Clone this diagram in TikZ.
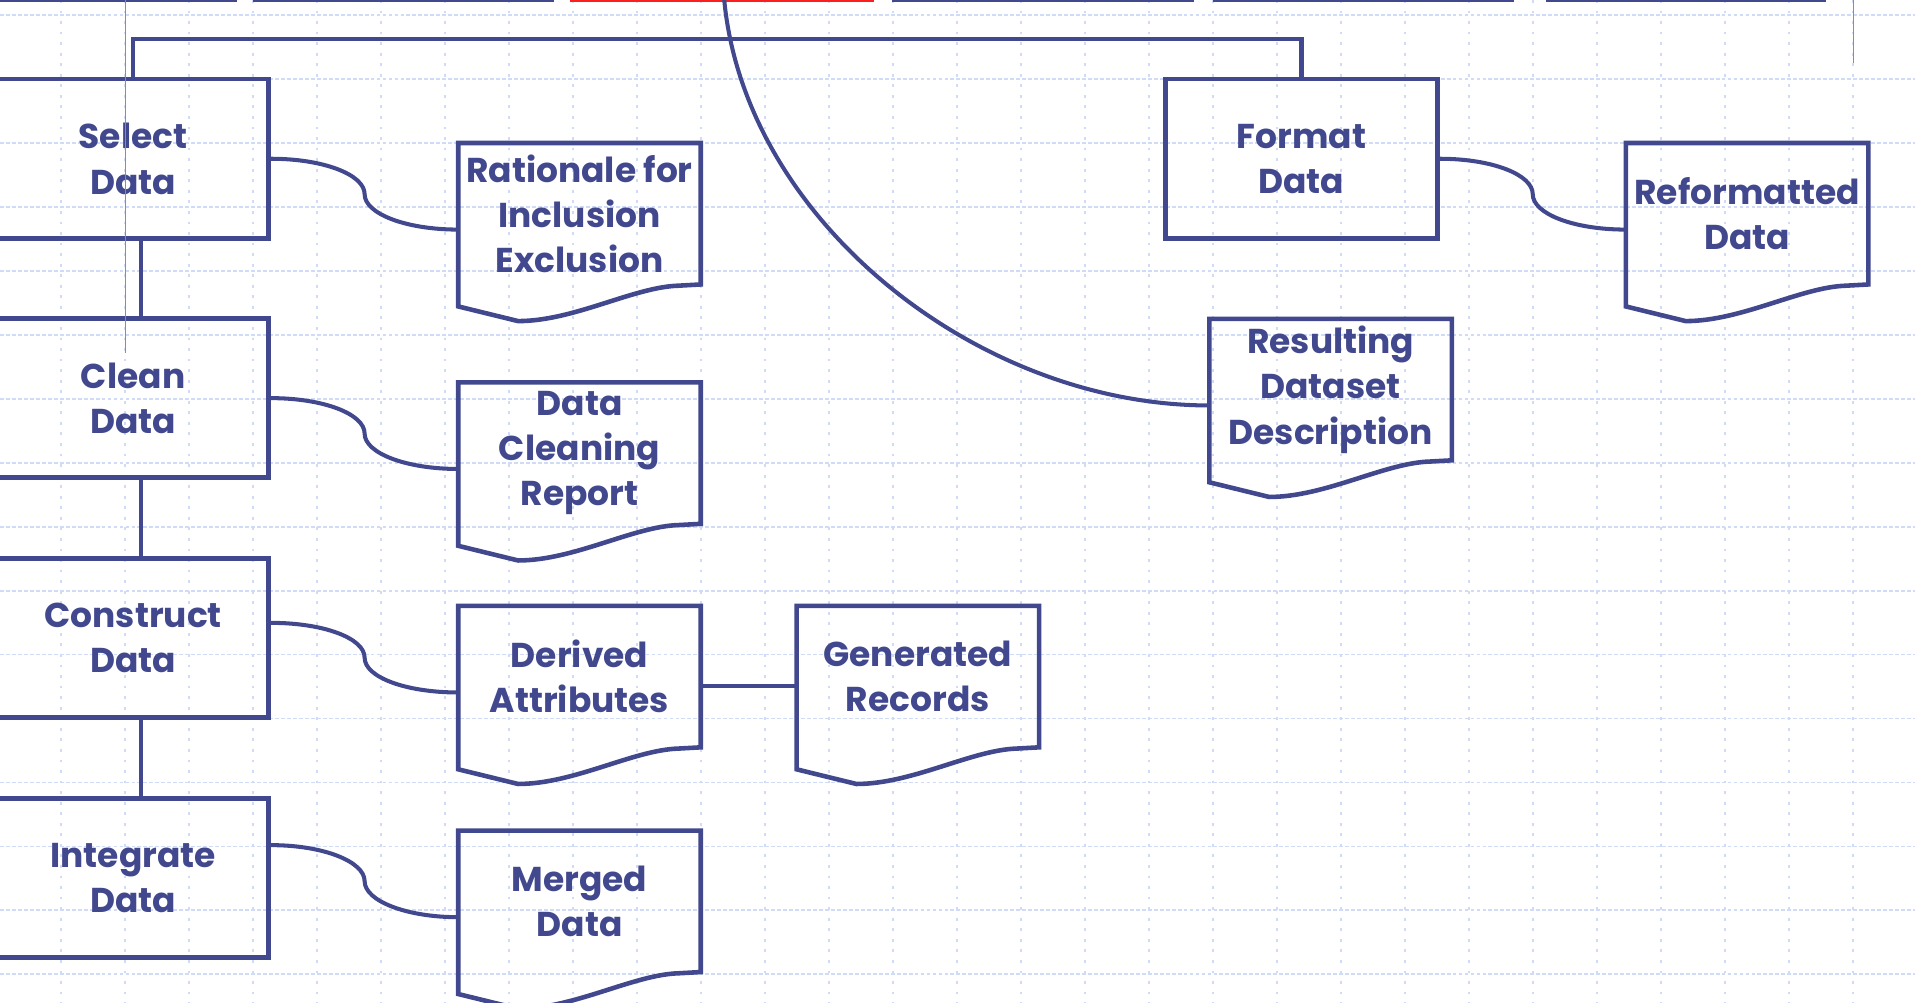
\documentclass[tikz,border=0pt]{standalone}
\usepackage{fontspec}
\setmainfont{Poppins}
\usetikzlibrary{calc}

\definecolor{ink}{RGB}{66,72,142}
\definecolor{gridblue}{RGB}{208,219,247}
\definecolor{guide}{RGB}{112,140,232}
\definecolor{tabred}{RGB}{250,32,32}

\newcommand{\labelfont}{\fontsize{9.8}{12.9}\selectfont\bfseries}

% page outline with wavy bottom, drawn round a named node
\newcommand{\docpage}[1]{%
  \draw[flow] ($(#1.south west)+(0,18)$) -- (#1.north west) -- (#1.north east)
    -- (#1.south east) -- ($(#1.south east)+(-18,1)$)
    .. controls ($(#1.south east)+(-55,2)$) and ($(#1.south west)+(95,30)$) .. ($(#1.south west)+(49,30)$)
    -- cycle;}

% s-shaped link between two named points
\newcommand{\slink}[2]{%
  \draw[link] (#1) .. controls +(43,0) and +(0,-16) .. ($(#1)!0.5!(#2)$)
    .. controls +(0,16) and +(-43,0) .. (#2);}

\begin{document}
\begin{tikzpicture}[x=0.012213cm, y=-0.012213cm,
  flow/.style={draw=ink, line width=1.3pt},
  link/.style={draw=ink, line width=1.15pt},
  proc/.style={flow, rectangle, minimum width=2.71cm, minimum height=1.59cm, align=center, text=ink, font=\labelfont, inner sep=0pt},
  doc/.style={rectangle, minimum width=2.41cm, minimum height=1.40cm, align=center, text=ink, font=\labelfont, inner sep=0pt},
  hgrid/.style={draw=gridblue, line width=0.5pt, dash pattern=on 1.1pt off 0.6pt},
  vgrid/.style={draw=gridblue, line width=0.5pt, dash pattern=on 0.8pt off 2.2pt}]

\useasboundingbox (0,0) rectangle (1568,821);
\clip (0,0) rectangle (1568,821);

% background grid
\foreach \k in {0,...,15} \draw[hgrid] (0,12.5+52.35*\k) -- (1568,12.5+52.35*\k);
\foreach \k in {0,...,29} \draw[vgrid] (50+52.4*\k,0) -- (50+52.4*\k,821);

% tab strip along the top edge
\fill[ink] (0,0) rectangle (194,1.7);
\fill[ink] (207,0) rectangle (454,1.7);
\fill[tabred] (467,0) rectangle (716,1.7);
\fill[ink] (730,0) rectangle (978,1.7);
\fill[ink] (993,0) rectangle (1240,1.7);
\fill[ink] (1266,0) rectangle (1495,1.7);

% process boxes
\node[proc] (sel) at (109,130) {Select\\Data};
\node[proc] (cln) at (109,326) {Clean\\Data};
\node[proc] (con) at (109,522.5) {Construct\\Data};
\node[proc] (itg) at (109,719) {Integrate\\Data};
\node[proc, minimum width=2.72cm] (fmt) at (1065.5,130) {Format\\Data};

% output documents
\node[doc] (rat) at (474.5,175) {Rationale for\\Inclusion\\Exclusion};
\node[doc] (rep) at (474.5,371) {Data\\Cleaning\\Report};
\node[doc] (der) at (474.5,554) {Derived\\Attributes};
\node[doc] (gen) at (751.5,554) {Generated\\Records};
\node[doc] (mrg) at (474.5,738) {Merged\\Data};
\node[doc] (rfm) at (1430.5,175) {Reformatted\\Data};
\node[doc] (res) at (1089.5,319) {Resulting\\Dataset\\Description};
\docpage{rat} \docpage{rep} \docpage{der} \docpage{gen}
\docpage{mrg} \docpage{rfm} \docpage{res}

% bracket over the task boxes
\coordinate (hub) at (593,0);
\draw[flow] (sel.north) -- (sel.north |- 0,32) -- (fmt.north |- 0,32) -- (fmt.north);

% chain of tasks
\draw[flow] ($(sel.south)+(6.5,0)$) -- ($(cln.north)+(6.5,0)$);
\draw[flow] ($(cln.south)+(6.5,0)$) -- ($(con.north)+(6.5,0)$);
\draw[flow] ($(con.south)+(6.5,0)$) -- ($(itg.north)+(6.5,0)$);

% links from tasks to their documents
\coordinate (conout) at ($(con.east)+(0,-12.5)$);
\coordinate (itgout) at ($(itg.east)+(0,-27)$);
\coordinate (ratin) at ($(rat.west)+(0,13)$);
\coordinate (repin) at ($(rep.west)+(0,13)$);
\coordinate (derin) at ($(der.west)+(0,13)$);
\coordinate (mrgin) at ($(mrg.west)+(0,13)$);
\coordinate (rfmin) at ($(rfm.west)+(0,13)$);
\coordinate (resin) at ($(res.west)+(0,13)$);
\slink{sel.east}{ratin}
\slink{cln.east}{repin}
\slink{conout}{derin}
\slink{itgout}{mrgin}
\slink{fmt.east}{rfmin}
\draw[link] ($(der.east)+(0,8)$) -- ($(gen.west)+(0,8)$);
\draw[link] (hub) .. controls (610,180) and (800,332) .. (resin);

% thin guide lines
\draw[guide, line width=0.35pt] (102.6,0) -- (102.6,289);
\draw[guide, line width=0.35pt] (1517.5,0) -- (1517.5,52);

\end{tikzpicture}
\end{document}
